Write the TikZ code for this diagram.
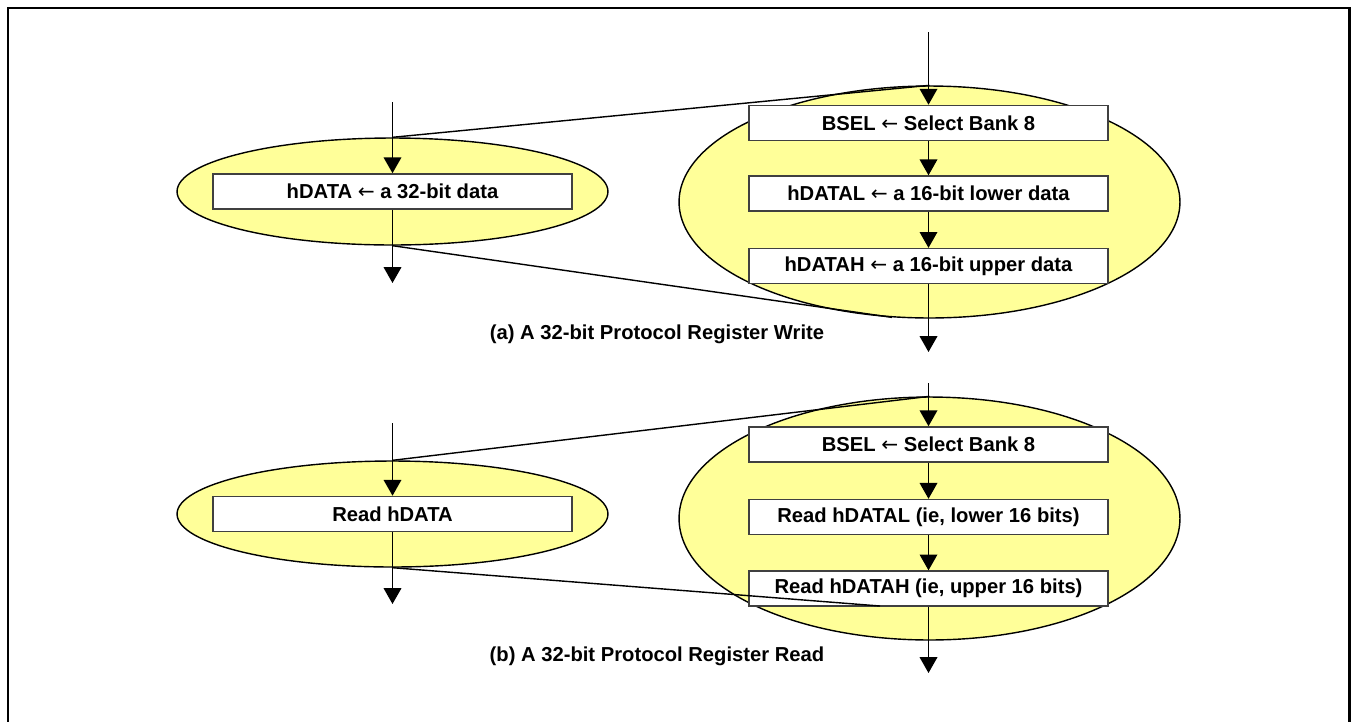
\documentclass[tikz,border=0pt]{standalone}
\usepackage{fontspec}
\setmainfont{Liberation Sans}
\newfontfamily\arrowfont{DejaVu Sans}
\newcommand{\getsarrow}{{\arrowfont\mdseries ←}}
\usetikzlibrary{arrows.meta}
\usetikzlibrary{shapes.geometric}
\usetikzlibrary{positioning}
\definecolor{ovalyellow}{RGB}{255,255,153}

\begin{document}
\begin{tikzpicture}[x=0.02cm,y=-0.02cm,
  stepbox/.style={rectangle,draw=black!75,fill=white,line width=0.9pt,minimum width=7.18cm,minimum height=0.7cm,inner sep=0pt,font=\fontsize{11.5}{13}\selectfont\bfseries},
  oval/.style={ellipse,draw=black,fill=ovalyellow,line width=0.8pt,inner sep=0pt},
  flow/.style={line width=0.9pt,-{Triangle[width=10pt,length=9pt]}},
  zoomline/.style={line width=0.8pt},
  caption/.style={font=\fontsize{11.5}{13}\selectfont\bfseries}]
\useasboundingbox (0,0) rectangle (1351,721);
\draw[line width=1.6pt] (8,8) rectangle (1349.5,760);

% (a) write
\node[oval,minimum width=8.62cm,minimum height=2.14cm] (wrsmall) at (392.5,191.5) {};
\node[oval,minimum width=10.02cm,minimum height=4.64cm] (wrbig) at (929.5,202) {};
\node[stepbox] (wrdata) at (392.5,191.5) {hDATA \getsarrow{} a 32-bit data};
\node[stepbox] (wrbsel) at (928.5,123) {BSEL \getsarrow{} Select Bank 8};
\node[stepbox,below=0.68cm of wrbsel] (wrlow) {hDATAL \getsarrow{} a 16-bit lower data};
\node[stepbox,below=0.72cm of wrlow] (wrhigh) {hDATAH \getsarrow{} a 16-bit upper data};
\node[caption] (wrcap) at (657,334) {(a) A 32-bit Protocol Register Write};
\coordinate (wrin) at (392.5,102);
\coordinate (wrout) at (392.5,283);
\coordinate (wrtop) at (928.5,32);
\coordinate (wrend) at (928.5,352);
\draw[flow] (wrin) -- (wrdata);
\draw[flow] (wrdata) -- (wrout);
\draw[flow] (wrtop) -- (wrbsel);
\draw[flow] (wrbsel) -- (wrlow);
\draw[flow] (wrlow) -- (wrhigh);
\draw[flow] (wrhigh) -- (wrend);
\draw[zoomline] (wrsmall.north) -- (wrbig.north);
\draw[zoomline] (wrsmall.south) -- (wrbig.252);

% (b) read
\node[oval,minimum width=8.62cm,minimum height=2.12cm] (rdsmall) at (392.5,514) {};
\node[oval,minimum width=10.02cm,minimum height=4.86cm] (rdbig) at (929.5,518.5) {};
\node[stepbox] (rddata) at (392.5,514) {Read hDATA};
\node[stepbox] (rdbsel) at (928.5,444.5) {BSEL \getsarrow{} Select Bank 8};
\node[stepbox,below=0.72cm of rdbsel] (rdlow) {Read hDATAL (ie, lower 16 bits)};
\node[stepbox,below=0.70cm of rdlow] (rdhigh) {Read hDATAH (ie, upper 16 bits)};
\node[caption] (rdcap) at (657,656) {(b) A 32-bit Protocol Register Read};
\coordinate (rdin) at (392.5,423);
\coordinate (rdout) at (392.5,604);
\coordinate (rdtop) at (928.5,383);
\coordinate (rdend) at (928.5,673);
\coordinate (rdcut) at (880,606);
\draw[flow] (rdin) -- (rddata);
\draw[flow] (rddata) -- (rdout);
\draw[flow] (rdtop) -- (rdbsel);
\draw[flow] (rdbsel) -- (rdlow);
\draw[flow] (rdlow) -- (rdhigh);
\draw[flow] (rdhigh) -- (rdend);
\draw[zoomline] (rdsmall.north) -- (rdbig.north);
\draw[zoomline] (rdsmall.south) -- (rdcut);

\end{tikzpicture}
\end{document}
